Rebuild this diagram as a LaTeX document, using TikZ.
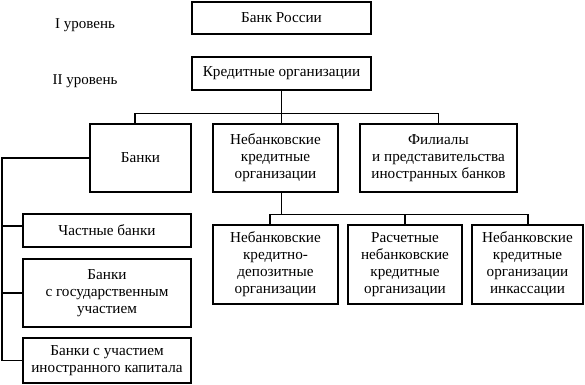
\documentclass[tikz,border=0pt]{standalone}
\usepackage{fontspec}
\setmainfont{Liberation Serif}
\usetikzlibrary{calc}
\tikzset{
  box/.style={draw, line width=1.2pt, align=center, inner sep=1pt,
    font=\fontsize{15.2}{17}\selectfont},
  lvl/.style={font=\fontsize{15}{17}\selectfont},
  conn/.style={line width=1.2pt}
}
\begin{document}
\begin{tikzpicture}[x=1pt,y=-1pt]
\useasboundingbox (0,0) rectangle (585,384);
% level labels
\node[lvl] (l1) at (85,25) {I уровень};
\node[lvl] (l2) at (85,81) {II уровень};
% top
\node[box, minimum width=179, minimum height=32] (bank) at (281.5,18) {Банк России};
\node[box, minimum width=179, minimum height=33] (kred) at (281.5,73.5) {Кредитные организации};
% second row
\node[box, minimum width=101, minimum height=68] (banki) at (140.5,158) {Банки};
\node[box, minimum width=125, minimum height=68] (nbko) at (275.5,158) {Небанковские\\кредитные\\организации};
\node[box, minimum width=157, minimum height=68] (fil) at (438.5,158) {Филиалы\\и представительства\\иностранных банков};
% left column
\node[box, minimum width=168, minimum height=33] (chast) at (107,230.5) {Частные банки};
\node[box, minimum width=168, minimum height=68] (gos) at (107,293) {Банки\\с государственным\\участием};
\node[box, minimum width=168, minimum height=45] (inostr) at (107,360.5) {Банки с участием\\иностранного капитала};
% bottom right
\node[box, minimum width=125, minimum height=79] (b1) at (275.5,264.5) {Небанковские\\кредитно-\\депозитные\\организации};
\node[box, minimum width=114, minimum height=79] (b2) at (405,264.5) {Расчетные\\небанковские\\кредитные\\организации};
\node[box, minimum width=111, minimum height=79] (b3) at (527.5,264.5) {Небанковские\\кредитные\\организации\\инкассации};
% connectors top
\draw[conn] (kred.south) -- ++(0,23) coordinate (j1);
\draw[conn] ($(banki.north)+(-5.5,0)$) |- (j1) -| (fil.north);
\draw[conn] (j1) -- (j1 |- nbko.north);
% connectors bottom right
\coordinate (k) at (kred.south);
\draw[conn] (k |- nbko.south) -- ++(0,22) coordinate (j2);
\draw[conn] ($(b1.north)+(-5.5,0)$) |- (j2) -| ($(b3.north)+(0.5,0)$);
\draw[conn] (b2.north) -- (b2.north |- j2);
% left bracket
\coordinate (lx) at (2,0);
\coordinate (cw) at ($(chast.west)+(0,-4.5)$);
\draw[conn] (banki.west) -| (lx |- inostr.west) -- (inostr.west);
\draw[conn] (lx |- cw) -- (cw);
\draw[conn] (lx |- gos.west) -- (gos.west);
\end{tikzpicture}
\end{document}
